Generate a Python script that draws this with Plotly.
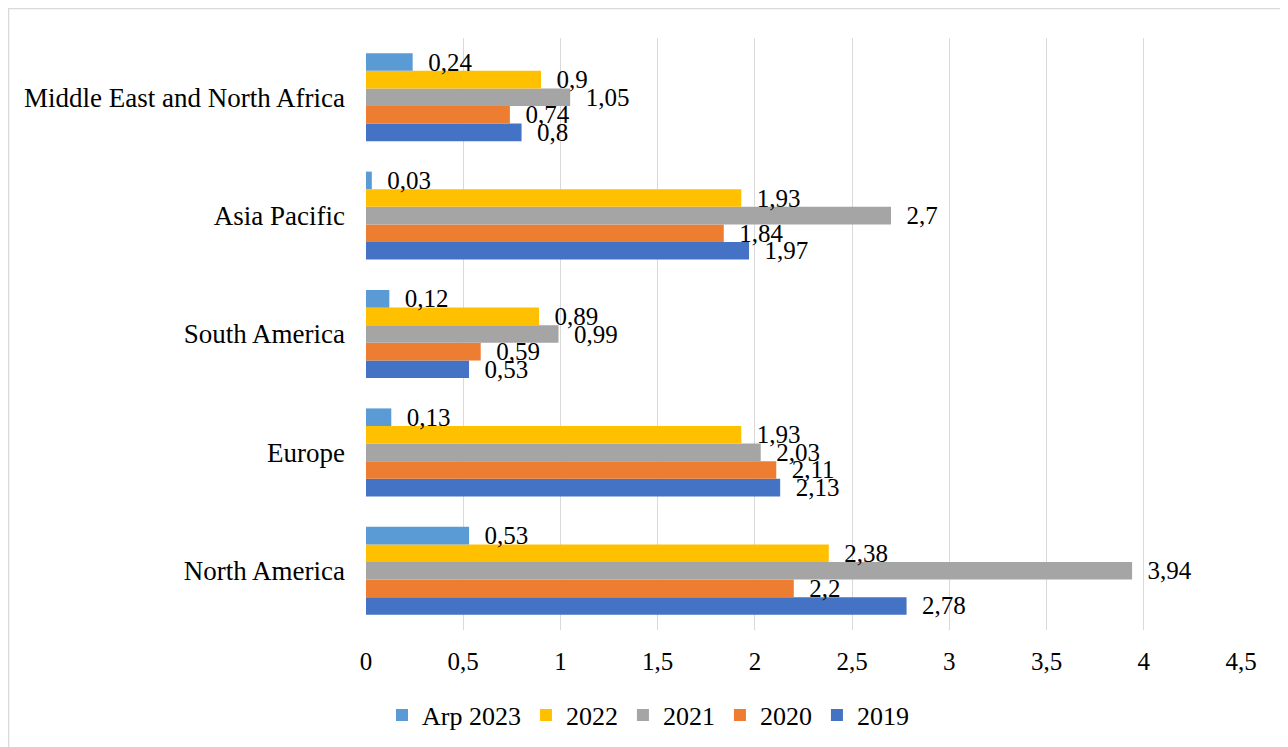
import plotly.graph_objects as go

categories = ["North America", "Europe", "South America", "Asia Pacific", "Middle East and North Africa"]
series_names = ["2019", "2020", "2021", "2022", "Arp 2023"]
v2019 = [2.78, 2.13, 0.53, 1.97, 0.8]
v2020 = [2.2, 2.11, 0.59, 1.84, 0.74]
v2021 = [3.94, 2.03, 0.99, 2.7, 1.05]
v2022 = [2.38, 1.93, 0.89, 1.93, 0.9]
varp2023 = [0.53, 0.13, 0.12, 0.03, 0.24]
x_ticks = [0, 0.5, 1, 1.5, 2, 2.5, 3, 3.5, 4, 4.5]

colors = ["#4472C4", "#ED7D31", "#A5A5A5", "#FFC000", "#5B9BD5"]
all_values = [v2019, v2020, v2021, v2022, varp2023]

FONT = "Liberation Serif, Times New Roman, serif"

fig = go.Figure()
for name, vals, col in zip(series_names, all_values, colors):
    fig.add_trace(go.Bar(
        y=categories, x=vals, name=name, orientation="h",
        marker=dict(color=col, line=dict(width=0)),
        text=["\u2002" + str(v).replace(".", ",") for v in vals],
        textposition="outside", cliponaxis=False, constraintext="none",
        textfont=dict(family=FONT, size=25, color="black"),
    ))

# page has an 8px body margin, so figure coordinates are offset by 8px
W, H = 1280, 739
L, R, T, B = 358, 47, 30, 117
pw, ph = W - L - R, H - T - B

def px2x(p):
    return (p - L) / pw

def px2y(p):
    return (H - B - p) / ph

fig.update_layout(
    width=W, height=H,
    barmode="group", bargap=0.257, bargroupgap=0,
    separators=", ",
    paper_bgcolor="white", plot_bgcolor="white",
    margin=dict(l=L, r=R, t=T, b=B),
    font=dict(family=FONT, size=25, color="black"),
    xaxis=dict(range=[0, 4.5], tickvals=x_ticks, showgrid=True, gridcolor="#D9D9D9",
               gridwidth=1, zeroline=False, showline=False, ticks="",
               ticklabelstandoff=14, tickfont=dict(size=25, family=FONT)),
    yaxis=dict(type="category", showgrid=False, zeroline=False, showline=False,
               ticks="", ticklabelstandoff=20, tickfont=dict(size=27, family=FONT)),
    legend=dict(orientation="h", traceorder="reversed", xref="container", yref="container",
                x=0.5, xanchor="center", y=0.043, yanchor="middle",
                font=dict(size=26, family=FONT), itemwidth=30),
    showlegend=True,
    shapes=[dict(type="rect", xref="paper", yref="paper",
                 x0=px2x(0.5), x1=px2x(1278), y0=px2y(745), y1=px2y(0.5),
                 line=dict(color="#D9D9D9", width=1.5), layer="below")],
)

fig.write_html("out.html")
